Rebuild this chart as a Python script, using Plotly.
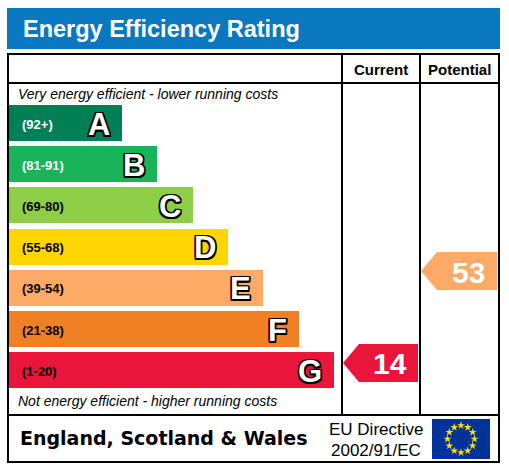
import numpy as np
import plotly.graph_objects as go

# --- data ---
bands = ["A", "B", "C", "D", "E", "F", "G"]
band_ranges = ["(92+)", "(81-91)", "(69-80)", "(55-68)", "(39-54)", "(21-38)", "(1-20)"]
band_lo = [92, 81, 69, 55, 39, 21, 1]
band_hi = [100, 91, 80, 68, 54, 38, 20]
band_colors = ["#008054", "#19b459", "#8dce46", "#ffd500", "#fcaa65", "#ef8023", "#e9153b"]
range_text_colors = ["white", "white", "black", "black", "black", "black", "black"]
current_rating = 14
potential_rating = 53

W, H = 509, 467

# layout geometry (pixels)
bar_left = 8
bar_top_center = 123
bar_step = 41.2
bar_h = 36
centers = [bar_top_center + bar_step * i for i in range(len(bands))]
lengths = [114 + 35.3 * i for i in range(len(bands))]

col_cur = (342, 420)
col_pot = (420, 499)


def band_of(v):
    for i, (lo, hi) in enumerate(zip(band_lo, band_hi)):
        if lo <= v <= hi:
            return i
    return len(bands) - 1


def arrow_y(v):
    # arrow sits at the rating's position inside its band
    i = band_of(v)
    frac = (v - band_lo[i] + 0.5) / (band_hi[i] - band_lo[i] + 1)
    return centers[i] - (frac - 0.5) * bar_step


fig = go.Figure()

fig.add_trace(go.Bar(
    orientation="h", y=centers, x=lengths, base=bar_left, width=bar_h,
    marker=dict(color=band_colors, line=dict(width=0)),
    hoverinfo="skip", showlegend=False,
))

outline = ("-1.5px -1.5px 0 #000, 1.5px -1.5px 0 #000, -1.5px 1.5px 0 #000, 1.5px 1.5px 0 #000, "
           "0 -1.5px 0 #000, 0 1.5px 0 #000, -1.5px 0 0 #000, 1.5px 0 0 #000")

for i, b in enumerate(bands):
    fig.add_annotation(x=20, y=centers[i] + 1, text=band_ranges[i], showarrow=False,
                       xanchor="left", yanchor="middle",
                       font=dict(family="Liberation Sans", size=13, color=range_text_colors[i],
                                 weight="bold"))
    fig.add_annotation(x=bar_left + lengths[i] - 10, y=centers[i] + 1, text=b, showarrow=False,
                       xanchor="right", yanchor="middle",
                       font=dict(family="Liberation Sans", size=31, color="white",
                                 weight="bold", shadow=outline))

# rating arrows
for val, (c0, c1) in [(current_rating, col_cur), (potential_rating, col_pot)]:
    yc = arrow_y(val)
    half = 19
    tip = c0 + 1
    shoulder = c0 + 17
    right = c1 - 2
    fig.add_trace(go.Scatter(
        x=[tip, shoulder, right, right, shoulder, tip],
        y=[yc, yc - half, yc - half, yc + half, yc + half, yc],
        fill="toself", fillcolor=band_colors[band_of(val)], mode="lines",
        line=dict(width=0), hoverinfo="skip", showlegend=False,
    ))
    fig.add_annotation(x=(shoulder + right) / 2 + 1, y=yc + 1, text=str(val), showarrow=False,
                       xanchor="center", yanchor="middle",
                       font=dict(family="Liberation Sans", size=30, color="white", weight="bold"))

# EU flag stars
ang = np.linspace(0, 2 * np.pi, 12, endpoint=False)
fig.add_trace(go.Scatter(
    x=461 + 13.5 * np.sin(ang), y=439 - 13.5 * np.cos(ang), mode="markers",
    marker=dict(symbol="star", size=6, color="#ffdd00", line=dict(width=0)),
    hoverinfo="skip", showlegend=False,
))

shapes = [
    # header bar
    dict(type="rect", x0=7, x1=500, y0=8, y1=49, fillcolor="#0a78c0", line=dict(width=0), layer="below"),
    # table frame
    dict(type="rect", x0=8, x1=499, y0=54, y1=462, line=dict(color="black", width=2), layer="above"),
    dict(type="line", x0=8, x1=499, y0=83, y1=83, line=dict(color="black", width=2)),
    dict(type="line", x0=8, x1=499, y0=415, y1=415, line=dict(color="black", width=2)),
    dict(type="line", x0=col_cur[0], x1=col_cur[0], y0=54, y1=415, line=dict(color="black", width=2)),
    dict(type="line", x0=col_pot[0], x1=col_pot[0], y0=54, y1=415, line=dict(color="black", width=2)),
    # EU flag
    dict(type="rect", x0=432, x1=490, y0=419, y1=459, fillcolor="#003399", line=dict(width=0), layer="below"),
]

texts = [
    dict(x=21, y=29, text="Energy Efficiency Rating", xanchor="left",
         font=dict(family="Liberation Sans", size=23.5, color="white", weight="bold")),
    dict(x=381, y=69, text="Current", xanchor="center",
         font=dict(family="Liberation Sans", size=15, color="black", weight="bold")),
    dict(x=459, y=69, text="Potential", xanchor="center",
         font=dict(family="Liberation Sans", size=15, color="black", weight="bold")),
    dict(x=16, y=94, text="Very energy efficient - lower running costs", xanchor="left",
         font=dict(family="Liberation Sans", size=14, color="black", style="italic")),
    dict(x=16, y=401, text="Not energy efficient - higher running costs", xanchor="left",
         font=dict(family="Liberation Sans", size=14, color="black", style="italic")),
    dict(x=18, y=438, text="England, Scotland & Wales", xanchor="left",
         font=dict(family="DejaVu Sans", size=19, color="black", weight="bold")),
    dict(x=376, y=429, text="EU Directive", xanchor="center",
         font=dict(family="Liberation Sans", size=17, color="black")),
    dict(x=376, y=450, text="2002/91/EC", xanchor="center",
         font=dict(family="Liberation Sans", size=17, color="black")),
]
for t in texts:
    fig.add_annotation(showarrow=False, yanchor="middle", **t)

fig.update_layout(
    width=W, height=H, margin=dict(l=0, r=0, t=0, b=0),
    paper_bgcolor="white", plot_bgcolor="white",
    xaxis=dict(range=[0, W], visible=False, fixedrange=True),
    yaxis=dict(range=[H, 0], visible=False, fixedrange=True),
    shapes=shapes, showlegend=False, bargap=0,
)

fig.write_html("out.html", config={"displayModeBar": False},
               post_script="document.body.style.margin='0';")
